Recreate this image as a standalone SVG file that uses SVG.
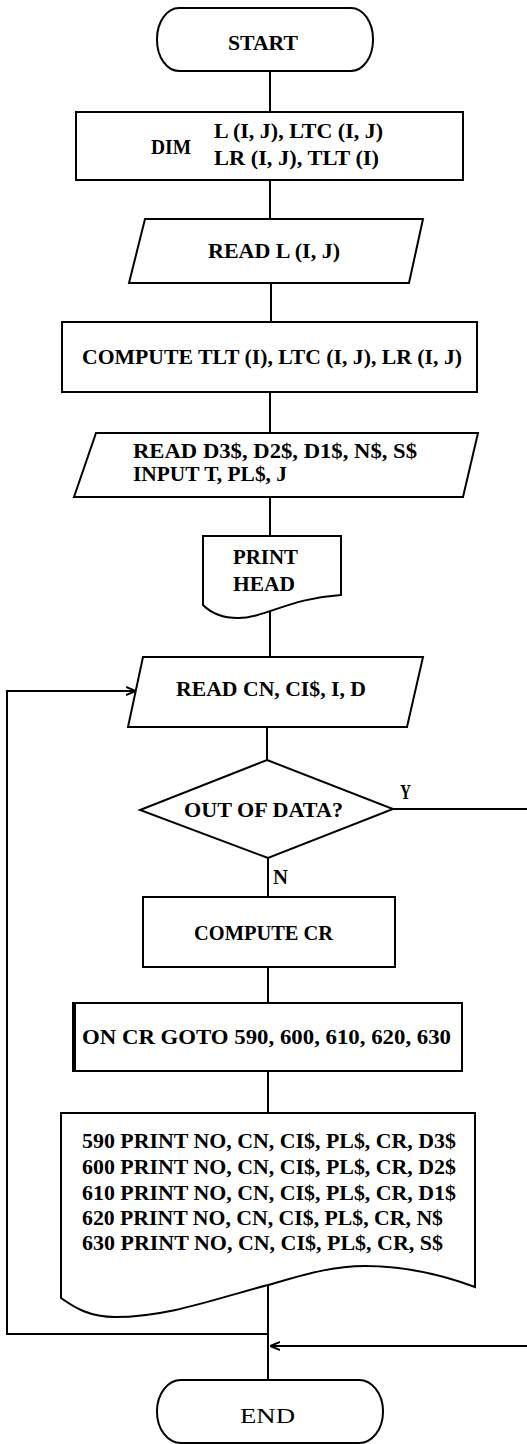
<svg xmlns="http://www.w3.org/2000/svg" width="527" height="1444" viewBox="0 0 527 1444">
  <defs>
    <style>
      .shape { fill: #fff; stroke: #000; stroke-width: 2; }
      .line { fill: none; stroke: #000; stroke-width: 2; }
      text { font-family: "Liberation Serif", "Times New Roman", serif; font-weight: bold; font-size: 22px; fill: #000; }
      .plain { font-weight: normal; }
    </style>
    <marker id="arrow" viewBox="0 0 10 10" refX="10" refY="5" markerWidth="10" markerHeight="10" markerUnits="userSpaceOnUse" orient="auto">
      <path d="M0,1 L10,5 L0,9" fill="none" stroke="#000" stroke-width="2"/>
    </marker>
  </defs>

  <!-- connectors -->
  <g id="connectors">
    <line class="line" x1="270" y1="71" x2="270" y2="112"/>
    <line class="line" x1="270" y1="180" x2="270" y2="219"/>
    <line class="line" x1="271" y1="283" x2="271" y2="322"/>
    <line class="line" x1="270" y1="392" x2="270" y2="433"/>
    <line class="line" x1="270" y1="497" x2="270" y2="536"/>
    <line class="line" x1="270" y1="611" x2="270" y2="657"/>
    <line class="line" x1="267" y1="727" x2="267" y2="760"/>
    <line class="line" x1="268" y1="858" x2="268" y2="897"/>
    <line class="line" x1="268" y1="967" x2="268" y2="1003"/>
    <line class="line" x1="268" y1="1071" x2="268" y2="1113"/>
    <line class="line" x1="268" y1="1285" x2="268" y2="1380"/>
    <!-- loop back to the read step -->
    <path class="line" d="M268,1334 H7 V691 H136" marker-end="url(#arrow)"/>
    <!-- out-of-data branch -->
    <path class="line" d="M393,809 H530 V1346 H270" marker-end="url(#arrow)"/>
    <text x="400" y="799" textLength="11" lengthAdjust="spacingAndGlyphs">Y</text>
    <text x="273" y="884" textLength="15" lengthAdjust="spacingAndGlyphs">N</text>
  </g>

  <g id="start">
    <rect class="shape" x="157" y="8" width="216" height="63" rx="22" ry="31"/>
    <text x="228" y="50" textLength="70" lengthAdjust="spacingAndGlyphs">START</text>
  </g>

  <g id="dim">
    <rect class="shape" x="76" y="112" width="387" height="68"/>
    <text x="151" y="154" textLength="40" lengthAdjust="spacingAndGlyphs">DIM</text>
    <text x="214" y="138" textLength="169" lengthAdjust="spacingAndGlyphs">L (I, J), LTC (I, J)</text>
    <text x="214" y="165" textLength="165" lengthAdjust="spacingAndGlyphs">LR (I, J), TLT (I)</text>
  </g>

  <g id="read-l">
    <polygon class="shape" points="145,219 423,219 409,283 129,283"/>
    <text x="208" y="258" textLength="132" lengthAdjust="spacingAndGlyphs">READ L (I, J)</text>
  </g>

  <g id="compute-tlt">
    <rect class="shape" x="62" y="322" width="415" height="70"/>
    <text x="82" y="364" textLength="380" lengthAdjust="spacingAndGlyphs">COMPUTE TLT (I), LTC (I, J), LR (I, J)</text>
  </g>

  <g id="read-input">
    <polygon class="shape" points="96,433 478,433 463,497 74,497"/>
    <text x="133" y="458" textLength="284" lengthAdjust="spacingAndGlyphs">READ D3$, D2$, D1$, N$, S$</text>
    <text x="133" y="481" textLength="154" lengthAdjust="spacingAndGlyphs">INPUT T, PL$, J</text>
  </g>

  <g id="print-head">
    <path class="shape" d="M203,536 H341 V595 C290,598 265,618 238,618 C222,618 210,612 203,605 Z"/>
    <text x="233" y="564" textLength="65" lengthAdjust="spacingAndGlyphs">PRINT</text>
    <text x="233" y="591" textLength="62" lengthAdjust="spacingAndGlyphs">HEAD</text>
  </g>

  <g id="read-cn">
    <polygon class="shape" points="143,657 423,657 407,727 128,727"/>
    <text x="176" y="696" textLength="190" lengthAdjust="spacingAndGlyphs">READ CN, CI$, I, D</text>
  </g>

  <g id="out-of-data">
    <polygon class="shape" points="267,760 393,809 268,858 140,810"/>
    <text x="184" y="817" textLength="159" lengthAdjust="spacingAndGlyphs">OUT OF DATA?</text>
  </g>

  <g id="compute-cr">
    <rect class="shape" x="143" y="897" width="252" height="70"/>
    <text x="194" y="940" textLength="139" lengthAdjust="spacingAndGlyphs">COMPUTE CR</text>
  </g>

  <g id="on-goto">
    <rect class="shape" x="73" y="1003" width="389" height="68"/>
    <line class="line" x1="75" y1="1004" x2="75" y2="1070" stroke-width="3"/>
    <text x="82" y="1044" textLength="369" lengthAdjust="spacingAndGlyphs">ON CR GOTO 590, 600, 610, 620, 630</text>
  </g>

  <g id="print-lines">
    <path class="shape" d="M61,1113 H475 V1287 C440,1274 405,1266 365,1266 C330,1266 300,1276 268,1285 C220,1297 170,1317 115,1317 C90,1317 75,1308 61,1298 Z"/>
    <text x="82" y="1148" textLength="374" lengthAdjust="spacingAndGlyphs">590 PRINT NO, CN, CI$, PL$, CR, D3$</text>
    <text x="82" y="1174" textLength="374" lengthAdjust="spacingAndGlyphs">600 PRINT NO, CN, CI$, PL$, CR, D2$</text>
    <text x="82" y="1200" textLength="374" lengthAdjust="spacingAndGlyphs">610 PRINT NO, CN, CI$, PL$, CR, D1$</text>
    <text x="82" y="1225" textLength="361" lengthAdjust="spacingAndGlyphs">620 PRINT NO, CN, CI$, PL$, CR, N$</text>
    <text x="82" y="1250" textLength="361" lengthAdjust="spacingAndGlyphs">630 PRINT NO, CN, CI$, PL$, CR, S$</text>
  </g>

  <g id="end">
    <rect class="shape" x="157" y="1380" width="226" height="63" rx="24" ry="31"/>
    <text class="plain" x="240" y="1423" textLength="55" lengthAdjust="spacingAndGlyphs">END</text>
  </g>
</svg>
